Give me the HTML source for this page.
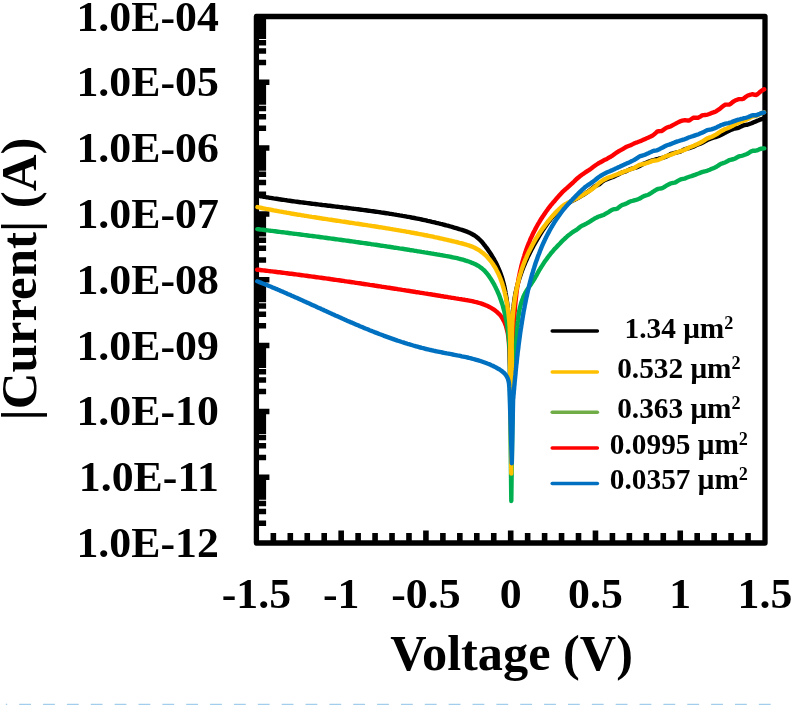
<!DOCTYPE html>
<html lang="en"><head><meta charset="utf-8"><title>I-V chart</title>
<style>html,body{margin:0;padding:0;background:#fff}body{width:792px;height:705px;overflow:hidden}svg{display:block}text{font-family:"Liberation Serif","Times New Roman",serif;font-weight:bold;fill:#000}</style></head><body>
<svg width="792" height="705" viewBox="0 0 792 705">
<rect width="792" height="705" fill="#fff"/>
<rect x="256.40" y="16.50" width="508.60" height="526.50" fill="none" stroke="#000" stroke-width="5.3" stroke-linejoin="round"/>
<path d="M256.40,62.50 H266.10 M256.40,50.91 H266.10 M256.40,42.69 H266.10 M256.40,36.31 H266.10 M256.40,31.10 H266.10 M256.40,26.69 H266.10 M256.40,22.88 H266.10 M256.40,19.51 H266.10 M256.40,82.31 H269.40 M256.40,128.31 H266.10 M256.40,116.72 H266.10 M256.40,108.50 H266.10 M256.40,102.12 H266.10 M256.40,96.91 H266.10 M256.40,92.51 H266.10 M256.40,88.69 H266.10 M256.40,85.32 H266.10 M256.40,148.12 H269.40 M256.40,194.13 H266.10 M256.40,182.54 H266.10 M256.40,174.31 H266.10 M256.40,167.94 H266.10 M256.40,162.73 H266.10 M256.40,158.32 H266.10 M256.40,154.50 H266.10 M256.40,151.14 H266.10 M256.40,213.94 H269.40 M256.40,259.94 H266.10 M256.40,248.35 H266.10 M256.40,240.13 H266.10 M256.40,233.75 H266.10 M256.40,228.54 H266.10 M256.40,224.13 H266.10 M256.40,220.32 H266.10 M256.40,216.95 H266.10 M256.40,279.75 H269.40 M256.40,325.75 H266.10 M256.40,314.16 H266.10 M256.40,305.94 H266.10 M256.40,299.56 H266.10 M256.40,294.35 H266.10 M256.40,289.94 H266.10 M256.40,286.13 H266.10 M256.40,282.76 H266.10 M256.40,345.56 H269.40 M256.40,391.56 H266.10 M256.40,379.97 H266.10 M256.40,371.75 H266.10 M256.40,365.37 H266.10 M256.40,360.16 H266.10 M256.40,355.76 H266.10 M256.40,351.94 H266.10 M256.40,348.57 H266.10 M256.40,411.38 H269.40 M256.40,457.38 H266.10 M256.40,445.79 H266.10 M256.40,437.56 H266.10 M256.40,431.19 H266.10 M256.40,425.98 H266.10 M256.40,421.57 H266.10 M256.40,417.75 H266.10 M256.40,414.39 H266.10 M256.40,477.19 H269.40 M256.40,523.19 H266.10 M256.40,511.60 H266.10 M256.40,503.38 H266.10 M256.40,497.00 H266.10 M256.40,491.79 H266.10 M256.40,487.38 H266.10 M256.40,483.57 H266.10 M256.40,480.20 H266.10" stroke="#000" stroke-width="5.5" fill="none"/>
<path d="M273.35,543.00 V533.00 M290.31,543.00 V533.00 M307.26,543.00 V533.00 M324.21,543.00 V533.00 M341.17,543.00 V530.50 M358.12,543.00 V533.00 M375.07,543.00 V533.00 M392.03,543.00 V533.00 M408.98,543.00 V533.00 M425.93,543.00 V530.50 M442.89,543.00 V533.00 M459.84,543.00 V533.00 M476.79,543.00 V533.00 M493.75,543.00 V533.00 M510.70,543.00 V530.50 M527.65,543.00 V533.00 M544.61,543.00 V533.00 M561.56,543.00 V533.00 M578.51,543.00 V533.00 M595.47,543.00 V530.50 M612.42,543.00 V533.00 M629.37,543.00 V533.00 M646.33,543.00 V533.00 M663.28,543.00 V533.00 M680.23,543.00 V530.50 M697.19,543.00 V533.00 M714.14,543.00 V533.00 M731.09,543.00 V533.00 M748.05,543.00 V533.00" stroke="#000" stroke-width="5.6" fill="none"/>
<path d="M257.4,195.6 L258.9,195.9 L260.3,196.2 L261.8,196.4 L263.2,196.7 L264.7,196.9 L266.2,197.2 L267.6,197.4 L269.1,197.7 L270.6,197.9 L272.0,198.1 L273.5,198.4 L275.0,198.6 L276.4,198.8 L277.9,199.0 L279.4,199.3 L280.8,199.5 L282.3,199.7 L283.8,199.9 L285.3,200.1 L286.7,200.3 L288.2,200.6 L289.7,200.8 L291.2,201.0 L292.7,201.2 L294.1,201.4 L295.6,201.6 L297.1,201.8 L298.6,202.0 L300.1,202.2 L301.5,202.4 L303.0,202.5 L304.5,202.7 L306.0,202.9 L307.5,203.1 L309.0,203.3 L310.5,203.5 L311.9,203.7 L313.4,203.9 L314.9,204.0 L316.4,204.2 L317.9,204.4 L319.4,204.6 L320.9,204.8 L322.4,205.0 L323.8,205.1 L325.3,205.3 L326.8,205.5 L328.3,205.7 L329.8,205.8 L331.3,206.0 L332.8,206.2 L334.3,206.4 L335.8,206.6 L337.3,206.7 L338.8,206.9 L340.2,207.1 L341.7,207.3 L343.2,207.5 L344.7,207.6 L346.2,207.8 L347.7,208.0 L349.2,208.2 L350.7,208.4 L352.2,208.6 L353.7,208.8 L355.2,208.9 L356.6,209.1 L358.1,209.3 L359.6,209.5 L361.1,209.7 L362.6,209.9 L364.1,210.1 L365.6,210.3 L367.1,210.5 L368.6,210.7 L370.0,210.9 L371.5,211.1 L373.0,211.3 L374.5,211.5 L376.0,211.7 L377.5,211.9 L379.0,212.1 L380.4,212.3 L381.9,212.6 L383.4,212.8 L384.9,213.0 L386.4,213.2 L387.9,213.4 L389.3,213.7 L390.8,213.9 L392.3,214.1 L393.8,214.4 L395.3,214.6 L396.7,214.9 L398.2,215.1 L399.7,215.4 L401.2,215.6 L402.6,215.9 L404.1,216.1 L405.6,216.4 L407.0,216.7 L408.5,216.9 L410.0,217.2 L411.4,217.5 L412.9,217.8 L414.4,218.0 L415.8,218.3 L417.3,218.6 L418.8,218.9 L420.2,219.2 L421.7,219.5 L423.1,219.8 L424.6,220.1 L426.1,220.4 L427.5,220.8 L429.0,221.1 L430.4,221.4 L431.9,221.8 L433.3,222.1 L434.8,222.4 L436.2,222.8 L437.7,223.1 L439.1,223.5 L440.5,223.9 L442.0,224.2 L443.4,224.6 L444.9,225.0 L446.3,225.4 L447.7,225.7 L449.2,226.1 L450.6,226.5 L452.0,226.9 L453.5,227.4 L454.9,227.8 L456.3,228.2 L457.7,228.6 L459.2,229.1 L460.6,229.5 L462.0,229.9 L463.4,230.4 L464.8,230.9 L466.2,231.4 L467.6,231.9 L468.9,232.5 L470.2,233.1 L471.5,233.8 L472.8,234.5 L474.1,235.2 L475.3,236.0 L476.5,236.8 L477.6,237.8 L478.7,238.7 L479.8,239.8 L480.8,240.8 L481.9,241.9 L482.9,243.1 L483.8,244.3 L484.8,245.5 L485.7,246.7 L486.6,247.9 L487.5,249.1 L488.4,250.4 L489.3,251.7 L490.1,252.9 L490.9,254.2 L491.7,255.5 L492.5,256.8 L493.3,258.1 L494.1,259.4 L494.8,260.8 L495.5,262.1 L496.2,263.4 L496.9,264.8 L497.5,266.1 L498.1,267.5 L498.7,268.9 L499.3,270.3 L499.9,271.7 L500.4,273.0 L500.9,274.4 L501.4,275.9 L501.9,277.3 L502.3,278.7 L502.7,280.1 L503.1,281.5 L503.5,283.0 L503.8,284.4 L504.2,285.8 L504.5,287.3 L504.8,288.7 L505.1,290.2 L505.4,291.6 L505.6,293.1 L505.9,294.6 L506.1,296.0 L506.3,297.5 L506.6,299.0 L506.8,300.5 L507.0,301.9 L507.2,303.4 L507.4,304.9 L507.5,306.4 L507.7,307.9 L507.9,309.4 L508.1,310.9 L508.3,312.4 L508.4,313.9 L508.6,315.3 L508.8,316.8 L509.0,318.3 L509.2,319.8 L509.4,321.3 L511.3,380.0 L513.1,320.0 L513.1,318.5 L513.1,317.0 L513.1,315.5 L513.1,314.0 L513.2,312.5 L513.2,311.0 L513.3,309.5 L513.4,308.0 L513.6,306.5 L513.7,305.0 L513.9,303.5 L514.1,302.0 L514.3,300.6 L514.5,299.1 L514.7,297.6 L515.0,296.2 L515.2,294.7 L515.5,293.2 L515.8,291.8 L516.2,290.3 L516.5,288.9 L516.8,287.4 L517.2,286.0 L517.6,284.5 L518.0,283.1 L518.4,281.7 L518.8,280.2 L519.3,278.8 L519.7,277.4 L520.2,276.0 L520.7,274.6 L521.2,273.1 L521.7,271.7 L522.2,270.3 L522.7,268.9 L523.3,267.5 L523.8,266.2 L524.4,264.8 L525.0,263.4 L525.6,262.0 L526.2,260.6 L526.8,259.3 L527.4,257.9 L528.0,256.5 L528.7,255.2 L529.4,253.8 L530.0,252.5 L530.7,251.2 L531.4,249.8 L532.1,248.5 L532.8,247.2 L533.5,245.8 L534.2,244.5 L535.0,243.2 L535.7,241.9 L536.5,240.6 L537.2,239.3 L538.0,238.0 L538.8,236.7 L539.5,235.4 L540.3,234.2 L541.1,232.9 L541.9,231.6 L542.7,230.4 L543.5,229.1 L544.4,227.9 L545.2,226.6 L546.1,225.4 L546.9,224.2 L547.8,223.0 L548.7,221.8 L549.6,220.6 L550.5,219.4 L551.4,218.3 L552.4,217.1 L553.3,216.0 L554.3,214.9 L555.3,213.8 L556.3,212.8 L557.3,211.8 L558.4,210.8 L559.5,209.8 L560.6,208.8 L561.7,207.8 L562.8,206.8 L564.0,206.0 L565.2,205.2 L566.4,204.5 L567.6,203.8 L568.9,203.0 L570.1,202.2 L571.4,201.3 L572.7,200.6 L574.0,200.0 L575.3,199.3 L576.6,198.7 L578.0,197.9 L579.3,197.1 L580.6,196.4 L581.9,195.6 L583.2,194.9 L584.4,194.1 L585.7,193.2 L586.9,192.4 L588.2,191.5 L589.4,190.6 L590.6,189.6 L591.9,188.7 L593.1,187.7 L594.3,186.7 L595.5,186.0 L596.8,185.4 L598.0,184.9 L599.3,184.2 L600.5,183.2 L601.8,182.1 L603.1,181.0 L604.4,180.3 L605.7,179.8 L607.0,179.3 L608.3,178.8 L609.6,178.3 L610.9,177.8 L612.3,177.3 L613.6,176.7 L614.9,176.0 L616.3,175.4 L617.7,174.7 L619.0,174.0 L620.4,173.3 L621.8,172.6 L623.1,172.2 L624.5,171.7 L625.9,171.3 L627.3,170.6 L628.7,169.9 L630.1,169.2 L631.5,168.8 L632.8,168.4 L634.2,168.0 L635.6,167.6 L637.0,167.1 L638.4,166.6 L639.8,166.0 L641.2,165.1 L642.6,164.3 L644.1,163.5 L645.5,163.0 L646.9,162.4 L648.3,161.9 L649.7,161.4 L651.1,160.9 L652.5,160.4 L653.9,160.0 L655.3,159.6 L656.7,159.2 L658.1,158.9 L659.6,158.5 L661.0,158.2 L662.4,157.8 L663.8,157.4 L665.2,156.9 L666.6,156.4 L668.0,155.6 L669.4,154.8 L670.8,154.0 L672.3,153.6 L673.7,153.2 L675.1,152.8 L676.5,152.5 L677.9,152.2 L679.3,151.9 L680.7,151.4 L682.1,150.6 L683.5,149.8 L684.9,149.2 L686.3,148.8 L687.7,148.5 L689.1,148.1 L690.5,147.6 L691.9,147.2 L693.3,146.7 L694.7,146.0 L696.1,145.3 L697.5,144.7 L698.9,144.1 L700.3,143.6 L701.6,143.1 L703.0,142.5 L704.4,141.6 L705.8,140.8 L707.2,140.0 L708.5,139.4 L709.9,138.9 L711.3,138.3 L712.7,137.9 L714.1,137.5 L715.4,137.1 L716.8,136.6 L718.2,136.1 L719.6,135.6 L720.9,135.0 L722.3,134.2 L723.7,133.5 L725.1,132.7 L726.4,132.0 L727.8,131.4 L729.2,130.7 L730.6,130.1 L732.0,129.5 L733.3,128.9 L734.7,128.5 L736.1,128.3 L737.5,128.1 L738.9,127.7 L740.3,126.9 L741.7,126.2 L743.1,125.5 L744.5,125.2 L745.9,124.9 L747.3,124.7 L748.7,124.2 L750.1,123.7 L751.5,123.2 L753.0,122.6 L754.4,122.0 L755.8,121.4 L757.2,120.8 L758.7,120.2 L760.1,119.6 L761.6,119.1 L763.0,118.7 L764.5,118.2" fill="none" stroke="#000000" stroke-width="4.4" stroke-linejoin="round" stroke-linecap="round"/>
<path d="M257.1,269.7 L258.6,269.8 L260.1,270.0 L261.6,270.2 L263.1,270.4 L264.6,270.5 L266.1,270.7 L267.6,270.9 L269.1,271.1 L270.6,271.3 L272.1,271.4 L273.6,271.6 L275.1,271.8 L276.6,272.0 L278.1,272.2 L279.6,272.3 L281.1,272.5 L282.6,272.7 L284.1,272.9 L285.6,273.1 L287.0,273.3 L288.5,273.5 L290.0,273.7 L291.5,273.8 L293.0,274.0 L294.5,274.2 L296.0,274.4 L297.5,274.6 L298.9,274.8 L300.4,275.0 L301.9,275.2 L303.4,275.4 L304.9,275.6 L306.4,275.8 L307.8,276.0 L309.3,276.2 L310.8,276.4 L312.3,276.6 L313.8,276.8 L315.2,277.0 L316.7,277.2 L318.2,277.4 L319.7,277.6 L321.2,277.8 L322.6,278.0 L324.1,278.2 L325.6,278.4 L327.1,278.6 L328.5,278.8 L330.0,279.0 L331.5,279.3 L333.0,279.5 L334.5,279.7 L335.9,279.9 L337.4,280.1 L338.9,280.3 L340.4,280.5 L341.8,280.7 L343.3,280.9 L344.8,281.2 L346.3,281.4 L347.7,281.6 L349.2,281.8 L350.7,282.0 L352.2,282.2 L353.6,282.4 L355.1,282.7 L356.6,282.9 L358.0,283.1 L359.5,283.3 L361.0,283.5 L362.5,283.8 L363.9,284.0 L365.4,284.2 L366.9,284.4 L368.4,284.6 L369.8,284.9 L371.3,285.1 L372.8,285.3 L374.3,285.5 L375.7,285.8 L377.2,286.0 L378.7,286.2 L380.1,286.4 L381.6,286.7 L383.1,286.9 L384.6,287.1 L386.0,287.3 L387.5,287.6 L389.0,287.8 L390.5,288.0 L391.9,288.3 L393.4,288.5 L394.9,288.7 L396.4,288.9 L397.8,289.2 L399.3,289.4 L400.8,289.6 L402.3,289.9 L403.8,290.1 L405.2,290.3 L406.7,290.6 L408.2,290.8 L409.7,291.0 L411.1,291.3 L412.6,291.5 L414.1,291.7 L415.6,292.0 L417.1,292.2 L418.5,292.4 L420.0,292.7 L421.5,292.9 L423.0,293.1 L424.5,293.4 L426.0,293.6 L427.4,293.8 L428.9,294.1 L430.4,294.3 L431.9,294.5 L433.4,294.8 L434.9,295.0 L436.3,295.3 L437.8,295.5 L439.3,295.7 L440.8,296.0 L442.3,296.2 L443.8,296.5 L445.3,296.7 L446.8,296.9 L448.2,297.2 L449.7,297.4 L451.2,297.7 L452.7,297.9 L454.2,298.1 L455.7,298.4 L457.2,298.6 L458.7,298.9 L460.2,299.1 L461.7,299.3 L463.2,299.6 L464.7,299.8 L466.2,300.1 L467.7,300.3 L469.2,300.6 L470.6,300.9 L472.1,301.2 L473.6,301.5 L475.0,301.9 L476.5,302.2 L477.9,302.6 L479.3,303.0 L480.8,303.4 L482.2,303.9 L483.5,304.4 L484.9,304.9 L486.3,305.5 L487.6,306.1 L488.9,306.7 L490.2,307.4 L491.5,308.1 L492.7,308.8 L493.9,309.6 L495.1,310.5 L496.2,311.4 L497.3,312.3 L498.4,313.3 L499.3,314.3 L500.3,315.3 L501.2,316.5 L502.0,317.6 L502.7,318.8 L503.4,320.1 L504.1,321.4 L504.7,322.7 L505.2,324.1 L505.8,325.5 L506.2,326.9 L506.6,328.4 L507.0,329.9 L507.4,331.4 L507.7,332.9 L508.0,334.4 L508.2,336.0 L508.4,337.5 L508.6,339.1 L508.8,340.7 L508.9,342.3 L509.0,343.9 L509.1,345.4 L509.2,347.0 L509.3,348.6 L509.4,350.2 L509.4,351.7 L509.5,353.2 L509.5,354.8 L509.5,356.2 L509.6,357.7 L509.6,359.2 L509.7,360.6 L509.7,362.0 L509.8,363.3 L509.8,364.7 L509.9,365.9 L511.3,430.0 L513.3,366.0 L513.3,364.5 L513.3,363.0 L513.3,361.5 L513.3,360.0 L513.3,358.6 L513.3,357.1 L513.3,355.6 L513.4,354.1 L513.4,352.6 L513.4,351.1 L513.4,349.6 L513.4,348.1 L513.4,346.6 L513.4,345.2 L513.5,343.7 L513.5,342.2 L513.5,340.7 L513.5,339.2 L513.6,337.7 L513.6,336.1 L513.6,334.6 L513.7,333.1 L513.7,331.6 L513.8,330.1 L513.8,328.6 L513.9,327.1 L513.9,325.6 L514.0,324.1 L514.1,322.6 L514.1,321.1 L514.2,319.6 L514.3,318.1 L514.4,316.6 L514.5,315.1 L514.5,313.6 L514.6,312.1 L514.8,310.6 L514.9,309.1 L515.0,307.6 L515.1,306.1 L515.2,304.6 L515.4,303.1 L515.5,301.6 L515.7,300.1 L515.8,298.6 L516.0,297.1 L516.2,295.6 L516.3,294.1 L516.5,292.6 L516.7,291.1 L516.9,289.6 L517.1,288.1 L517.3,286.7 L517.6,285.2 L517.8,283.7 L518.1,282.2 L518.3,280.8 L518.6,279.3 L518.8,277.8 L519.1,276.3 L519.4,274.9 L519.7,273.4 L520.0,272.0 L520.3,270.5 L520.7,269.1 L521.0,267.6 L521.4,266.2 L521.7,264.7 L522.1,263.3 L522.5,261.8 L522.9,260.4 L523.3,259.0 L523.7,257.6 L524.2,256.1 L524.6,254.7 L525.1,253.3 L525.5,251.9 L526.0,250.5 L526.5,249.1 L527.0,247.7 L527.5,246.3 L528.1,244.9 L528.6,243.5 L529.2,242.2 L529.8,240.8 L530.3,239.4 L530.9,238.0 L531.6,236.7 L532.2,235.3 L532.8,234.0 L533.5,232.6 L534.2,231.3 L534.9,230.0 L535.6,228.6 L536.3,227.3 L537.0,226.0 L537.7,224.7 L538.5,223.4 L539.3,222.1 L540.0,220.8 L540.8,219.5 L541.6,218.3 L542.4,217.0 L543.3,215.7 L544.1,214.5 L545.0,213.2 L545.8,212.0 L546.7,210.8 L547.6,209.6 L548.5,208.3 L549.4,207.1 L550.3,206.0 L551.2,204.8 L552.2,203.7 L553.1,202.6 L554.1,201.5 L555.1,200.3 L556.0,199.2 L557.0,198.1 L558.0,196.9 L559.0,195.8 L560.0,194.7 L561.1,193.5 L562.1,192.4 L563.2,191.3 L564.2,190.4 L565.3,189.5 L566.3,188.5 L567.4,187.7 L568.5,186.7 L569.6,185.7 L570.7,184.7 L571.8,183.7 L572.9,182.6 L574.1,181.5 L575.2,180.4 L576.3,179.3 L577.5,178.3 L578.7,177.3 L579.8,176.3 L581.0,175.4 L582.2,174.5 L583.3,173.8 L584.5,173.0 L585.7,172.2 L586.9,171.4 L588.1,170.6 L589.3,169.9 L590.6,169.0 L591.8,168.1 L593.0,167.1 L594.2,166.2 L595.5,165.3 L596.7,164.5 L598.0,163.7 L599.2,162.9 L600.5,162.2 L601.8,161.5 L603.0,160.8 L604.3,160.1 L605.6,159.5 L606.9,158.9 L608.1,158.2 L609.4,157.4 L610.7,156.7 L612.0,155.9 L613.3,155.0 L614.6,154.0 L616.0,153.0 L617.3,152.1 L618.6,151.3 L619.9,150.6 L621.2,149.9 L622.6,149.1 L623.9,148.3 L625.2,147.5 L626.6,146.8 L627.9,146.3 L629.2,145.8 L630.6,145.3 L631.9,144.6 L633.3,143.9 L634.6,143.2 L635.9,142.7 L637.3,142.3 L638.6,141.8 L640.0,141.3 L641.3,140.7 L642.7,140.1 L644.0,139.5 L645.3,138.9 L646.7,138.3 L648.0,137.8 L649.4,137.1 L650.7,136.5 L652.1,135.8 L653.4,135.0 L654.7,133.8 L656.1,132.6 L657.4,131.4 L658.8,131.2 L660.1,131.1 L661.5,131.0 L662.9,130.3 L664.2,129.3 L665.6,128.3 L666.9,127.5 L668.3,127.1 L669.7,126.7 L671.1,126.2 L672.4,125.4 L673.8,124.6 L675.2,123.9 L676.6,123.1 L678.0,122.4 L679.4,121.7 L680.8,121.1 L682.2,120.7 L683.6,120.4 L685.0,120.2 L686.5,120.4 L687.9,120.5 L689.3,120.5 L690.7,119.5 L692.2,118.5 L693.6,117.6 L695.0,117.7 L696.4,117.8 L697.9,117.9 L699.3,117.1 L700.7,116.3 L702.1,115.4 L703.6,115.1 L705.0,115.0 L706.4,114.9 L707.8,114.5 L709.2,114.0 L710.6,113.4 L712.0,112.8 L713.4,112.4 L714.8,111.9 L716.2,111.3 L717.5,110.3 L718.9,109.4 L720.2,108.4 L721.6,107.3 L722.9,106.3 L724.3,105.2 L725.6,104.6 L726.9,104.6 L728.3,104.6 L729.6,104.6 L731.0,103.5 L732.3,102.4 L733.7,101.4 L735.1,100.6 L736.5,100.0 L737.9,99.4 L739.2,99.1 L740.7,99.1 L742.1,99.1 L743.5,98.7 L744.9,97.6 L746.3,96.5 L747.8,95.5 L749.2,95.1 L750.6,94.7 L752.0,94.2 L753.5,94.5 L754.9,94.8 L756.3,95.0 L757.6,94.1 L759.0,92.9 L760.3,91.7 L761.6,90.7 L762.9,90.0 L764.2,89.3" fill="none" stroke="#FF0000" stroke-width="4.4" stroke-linejoin="round" stroke-linecap="round"/>
<path d="M257.3,229.1 L258.8,229.3 L260.2,229.5 L261.7,229.6 L263.2,229.8 L264.7,230.0 L266.2,230.2 L267.7,230.4 L269.2,230.6 L270.7,230.8 L272.2,230.9 L273.7,231.1 L275.1,231.3 L276.6,231.5 L278.1,231.7 L279.6,231.9 L281.1,232.1 L282.6,232.2 L284.1,232.4 L285.5,232.6 L287.0,232.8 L288.5,233.0 L290.0,233.2 L291.5,233.4 L293.0,233.6 L294.4,233.8 L295.9,233.9 L297.4,234.1 L298.9,234.3 L300.4,234.5 L301.9,234.7 L303.3,234.9 L304.8,235.1 L306.3,235.3 L307.8,235.5 L309.3,235.7 L310.7,235.9 L312.2,236.0 L313.7,236.2 L315.2,236.4 L316.7,236.6 L318.2,236.8 L319.6,237.0 L321.1,237.2 L322.6,237.4 L324.1,237.6 L325.5,237.8 L327.0,238.0 L328.5,238.2 L330.0,238.4 L331.5,238.6 L332.9,238.8 L334.4,239.0 L335.9,239.2 L337.4,239.4 L338.9,239.6 L340.3,239.8 L341.8,240.0 L343.3,240.2 L344.8,240.4 L346.2,240.6 L347.7,240.8 L349.2,241.0 L350.7,241.2 L352.1,241.4 L353.6,241.6 L355.1,241.8 L356.6,242.1 L358.1,242.3 L359.5,242.5 L361.0,242.7 L362.5,242.9 L364.0,243.1 L365.4,243.3 L366.9,243.5 L368.4,243.7 L369.9,243.9 L371.3,244.2 L372.8,244.4 L374.3,244.6 L375.8,244.8 L377.3,245.0 L378.7,245.2 L380.2,245.5 L381.7,245.7 L383.2,245.9 L384.6,246.1 L386.1,246.3 L387.6,246.6 L389.1,246.8 L390.6,247.0 L392.0,247.2 L393.5,247.5 L395.0,247.7 L396.5,247.9 L397.9,248.1 L399.4,248.4 L400.9,248.6 L402.4,248.8 L403.9,249.0 L405.3,249.3 L406.8,249.5 L408.3,249.7 L409.8,250.0 L411.3,250.2 L412.7,250.4 L414.2,250.7 L415.7,250.9 L417.2,251.2 L418.7,251.4 L420.1,251.6 L421.6,251.9 L423.1,252.1 L424.6,252.4 L426.1,252.6 L427.5,252.8 L429.0,253.1 L430.5,253.3 L432.0,253.6 L433.5,253.8 L435.0,254.1 L436.4,254.3 L437.9,254.6 L439.4,254.8 L440.9,255.1 L442.4,255.3 L443.9,255.6 L445.4,255.9 L446.8,256.1 L448.3,256.4 L449.8,256.7 L451.3,257.0 L452.7,257.3 L454.2,257.6 L455.7,257.9 L457.1,258.2 L458.6,258.6 L460.0,259.0 L461.5,259.3 L462.9,259.7 L464.3,260.1 L465.7,260.6 L467.2,261.0 L468.6,261.5 L470.0,262.0 L471.3,262.6 L472.7,263.1 L474.1,263.7 L475.4,264.3 L476.7,265.0 L478.0,265.7 L479.2,266.4 L480.4,267.3 L481.6,268.1 L482.7,269.1 L483.8,270.0 L484.8,271.1 L485.8,272.2 L486.8,273.3 L487.7,274.4 L488.6,275.6 L489.5,276.9 L490.3,278.1 L491.1,279.4 L491.9,280.7 L492.7,282.0 L493.5,283.3 L494.2,284.6 L494.9,286.0 L495.6,287.3 L496.2,288.7 L496.9,290.0 L497.5,291.4 L498.1,292.8 L498.7,294.2 L499.3,295.6 L499.8,297.0 L500.3,298.4 L500.8,299.8 L501.3,301.2 L501.8,302.7 L502.3,304.1 L502.7,305.5 L503.1,306.9 L503.5,308.4 L503.9,309.8 L504.3,311.2 L504.6,312.7 L505.0,314.1 L505.3,315.6 L505.6,317.0 L505.9,318.5 L506.2,319.9 L506.5,321.4 L506.7,322.8 L507.0,324.3 L507.2,325.8 L507.4,327.2 L507.6,328.7 L507.8,330.2 L508.0,331.7 L508.2,333.2 L508.4,334.6 L508.5,336.1 L508.7,337.6 L508.8,339.1 L508.9,340.6 L509.1,342.1 L509.2,343.6 L509.3,345.1 L509.4,346.6 L509.5,348.1 L509.6,349.6 L511.3,501.0 L513.0,374.0 L513.2,372.5 L513.5,371.0 L513.7,369.5 L513.9,368.1 L514.1,366.6 L514.3,365.1 L514.5,363.6 L514.7,362.1 L514.8,360.6 L515.0,359.1 L515.1,357.6 L515.3,356.1 L515.4,354.7 L515.5,353.2 L515.6,351.7 L515.7,350.2 L515.8,348.7 L515.9,347.2 L516.0,345.7 L516.1,344.2 L516.2,342.7 L516.3,341.2 L516.4,339.7 L516.5,338.2 L516.6,336.7 L516.7,335.2 L516.8,333.7 L516.9,332.2 L517.0,330.7 L517.1,329.2 L517.2,327.7 L517.4,326.2 L517.5,324.7 L517.6,323.2 L517.8,321.7 L518.0,320.2 L518.1,318.7 L518.3,317.2 L518.5,315.7 L518.8,314.3 L519.0,312.8 L519.3,311.3 L519.5,309.8 L519.8,308.4 L520.2,306.9 L520.5,305.5 L520.9,304.0 L521.3,302.6 L521.8,301.2 L522.3,299.8 L522.8,298.5 L523.3,297.1 L523.9,295.7 L524.6,294.4 L525.2,293.1 L525.9,291.8 L526.7,290.5 L527.5,289.3 L528.3,288.1 L529.2,286.8 L530.0,285.6 L530.9,284.4 L531.7,283.1 L532.5,281.9 L533.3,280.7 L534.1,279.4 L534.8,278.1 L535.5,276.9 L536.3,275.6 L537.0,274.3 L537.7,273.0 L538.4,271.7 L539.1,270.4 L539.9,269.2 L540.7,267.9 L541.5,266.6 L542.3,265.4 L543.1,264.1 L543.9,262.9 L544.8,261.6 L545.6,260.4 L546.5,259.2 L547.4,257.9 L548.3,256.7 L549.2,255.5 L550.2,254.3 L551.1,253.1 L552.1,252.0 L553.1,250.8 L554.0,249.7 L555.0,248.6 L556.1,247.5 L557.1,246.4 L558.1,245.4 L559.2,244.3 L560.3,243.2 L561.3,242.0 L562.4,240.9 L563.5,239.8 L564.6,238.8 L565.8,237.8 L566.9,236.7 L568.0,235.7 L569.2,234.8 L570.4,233.9 L571.5,233.0 L572.7,232.2 L573.9,231.4 L575.1,230.7 L576.3,230.0 L577.6,229.0 L578.8,228.0 L580.0,227.0 L581.3,226.1 L582.5,225.5 L583.8,224.9 L585.1,224.3 L586.4,223.6 L587.6,222.9 L588.9,222.2 L590.2,221.4 L591.5,220.5 L592.9,219.7 L594.2,218.8 L595.5,218.1 L596.8,217.5 L598.1,216.8 L599.5,216.3 L600.8,215.9 L602.2,215.4 L603.5,215.0 L604.9,214.2 L606.2,213.4 L607.6,212.6 L609.0,211.8 L610.3,210.9 L611.7,210.0 L613.1,209.4 L614.4,209.2 L615.8,209.0 L617.2,208.7 L618.6,207.6 L619.9,206.5 L621.3,205.4 L622.7,204.8 L624.1,204.4 L625.5,203.9 L626.8,203.3 L628.2,202.5 L629.6,201.8 L631.0,201.2 L632.4,200.9 L633.7,200.5 L635.1,200.2 L636.5,199.7 L637.9,199.3 L639.2,198.8 L640.6,198.0 L642.0,197.2 L643.3,196.4 L644.7,195.8 L646.1,195.4 L647.4,195.0 L648.8,194.5 L650.1,193.6 L651.5,192.8 L652.8,191.9 L654.2,191.0 L655.6,190.2 L656.9,189.4 L658.3,188.9 L659.6,188.7 L661.0,188.5 L662.3,188.1 L663.7,187.3 L665.1,186.5 L666.4,185.7 L667.8,184.9 L669.1,184.2 L670.5,183.5 L671.9,183.1 L673.3,182.8 L674.6,182.6 L676.0,182.1 L677.4,181.2 L678.8,180.4 L680.2,179.6 L681.6,179.2 L683.0,178.9 L684.4,178.6 L685.8,178.1 L687.2,177.5 L688.6,177.0 L690.0,176.5 L691.4,176.1 L692.8,175.6 L694.2,175.1 L695.6,174.6 L697.1,174.0 L698.5,173.5 L699.9,172.9 L701.3,172.4 L702.7,171.9 L704.1,171.5 L705.6,171.2 L707.0,170.8 L708.4,170.2 L709.8,169.7 L711.2,169.1 L712.6,168.5 L714.0,167.9 L715.4,167.3 L716.8,166.5 L718.2,165.6 L719.6,164.6 L720.9,163.8 L722.3,163.4 L723.7,162.9 L725.1,162.5 L726.4,161.7 L727.8,161.0 L729.2,160.2 L730.5,159.8 L731.9,159.5 L733.3,159.3 L734.6,158.8 L736.0,158.0 L737.4,157.2 L738.7,156.5 L740.1,156.2 L741.5,155.9 L742.9,155.5 L744.2,155.0 L745.6,154.5 L747.0,154.0 L748.4,153.2 L749.8,152.2 L751.2,151.3 L752.7,150.8 L754.1,150.7 L755.5,150.7 L757.0,150.4 L758.4,149.8 L759.9,149.1 L761.3,148.6 L762.8,148.5 L764.3,148.4" fill="none" stroke="#00B050" stroke-width="4.4" stroke-linejoin="round" stroke-linecap="round"/>
<path d="M257.4,207.1 L258.8,207.4 L260.3,207.7 L261.8,208.0 L263.2,208.3 L264.7,208.6 L266.1,208.9 L267.6,209.1 L269.1,209.4 L270.5,209.7 L272.0,210.0 L273.5,210.3 L274.9,210.6 L276.4,210.8 L277.9,211.1 L279.3,211.4 L280.8,211.6 L282.3,211.9 L283.8,212.2 L285.2,212.4 L286.7,212.7 L288.2,212.9 L289.6,213.2 L291.1,213.5 L292.6,213.7 L294.1,214.0 L295.5,214.2 L297.0,214.5 L298.5,214.7 L300.0,214.9 L301.4,215.2 L302.9,215.4 L304.4,215.7 L305.9,215.9 L307.3,216.1 L308.8,216.4 L310.3,216.6 L311.8,216.9 L313.3,217.1 L314.7,217.3 L316.2,217.5 L317.7,217.8 L319.2,218.0 L320.7,218.2 L322.1,218.5 L323.6,218.7 L325.1,218.9 L326.6,219.1 L328.1,219.4 L329.5,219.6 L331.0,219.8 L332.5,220.0 L334.0,220.3 L335.5,220.5 L336.9,220.7 L338.4,220.9 L339.9,221.1 L341.4,221.4 L342.9,221.6 L344.4,221.8 L345.8,222.0 L347.3,222.2 L348.8,222.5 L350.3,222.7 L351.8,222.9 L353.3,223.1 L354.7,223.4 L356.2,223.6 L357.7,223.8 L359.2,224.0 L360.7,224.2 L362.2,224.5 L363.6,224.7 L365.1,224.9 L366.6,225.1 L368.1,225.4 L369.6,225.6 L371.0,225.8 L372.5,226.1 L374.0,226.3 L375.5,226.5 L377.0,226.7 L378.4,227.0 L379.9,227.2 L381.4,227.4 L382.9,227.7 L384.4,227.9 L385.9,228.2 L387.3,228.4 L388.8,228.6 L390.3,228.9 L391.8,229.1 L393.2,229.4 L394.7,229.6 L396.2,229.9 L397.7,230.1 L399.2,230.4 L400.6,230.6 L402.1,230.9 L403.6,231.1 L405.1,231.4 L406.5,231.7 L408.0,231.9 L409.5,232.2 L411.0,232.5 L412.4,232.7 L413.9,233.0 L415.4,233.3 L416.8,233.5 L418.3,233.8 L419.8,234.1 L421.3,234.4 L422.7,234.7 L424.2,235.0 L425.7,235.3 L427.1,235.5 L428.6,235.8 L430.1,236.1 L431.5,236.4 L433.0,236.7 L434.5,237.1 L435.9,237.4 L437.4,237.7 L438.9,238.0 L440.3,238.3 L441.8,238.6 L443.2,239.0 L444.7,239.3 L446.2,239.6 L447.6,240.0 L449.1,240.3 L450.5,240.6 L452.0,241.0 L453.4,241.3 L454.9,241.7 L456.3,242.0 L457.8,242.4 L459.3,242.8 L460.7,243.1 L462.2,243.5 L463.6,243.9 L465.0,244.3 L466.5,244.7 L467.9,245.2 L469.3,245.6 L470.7,246.1 L472.0,246.6 L473.4,247.2 L474.7,247.8 L476.0,248.5 L477.3,249.2 L478.5,249.9 L479.8,250.7 L480.9,251.5 L482.1,252.4 L483.3,253.3 L484.4,254.2 L485.4,255.2 L486.5,256.2 L487.5,257.3 L488.5,258.4 L489.5,259.5 L490.4,260.6 L491.3,261.8 L492.2,263.0 L493.0,264.2 L493.8,265.5 L494.6,266.7 L495.4,268.0 L496.1,269.3 L496.8,270.7 L497.5,272.0 L498.2,273.4 L498.8,274.7 L499.4,276.1 L500.0,277.5 L500.6,279.0 L501.1,280.4 L501.6,281.8 L502.1,283.3 L502.6,284.8 L503.0,286.2 L503.5,287.7 L503.9,289.2 L504.3,290.7 L504.7,292.2 L505.0,293.7 L505.4,295.2 L505.7,296.7 L506.0,298.2 L506.3,299.7 L506.6,301.2 L506.9,302.7 L507.1,304.2 L507.4,305.7 L507.6,307.1 L507.8,308.6 L508.0,310.1 L508.2,311.6 L508.4,313.1 L508.6,314.5 L508.7,316.0 L508.9,317.5 L509.0,318.9 L509.2,320.4 L509.3,321.9 L509.4,323.4 L509.5,324.8 L509.6,326.3 L509.7,327.8 L509.7,329.2 L509.8,330.7 L509.9,332.2 L509.9,333.6 L510.0,335.1 L510.0,336.6 L510.1,338.0 L510.1,339.5 L510.1,341.0 L510.1,342.4 L510.2,343.9 L510.2,345.4 L510.2,346.9 L510.2,348.4 L510.2,349.8 L510.2,351.3 L510.2,352.8 L510.2,354.3 L510.2,355.8 L510.2,357.3 L510.2,358.8 L510.2,360.3 L510.2,361.8 L510.2,363.3 L510.2,364.8 L510.2,366.3 L510.2,367.8 L510.2,369.3 L510.2,370.9 L510.2,372.4 L510.2,373.9 L510.2,375.5 L510.2,377.0 L510.2,378.6 L510.3,380.1 L511.3,473.5 L511.9,362.1 L511.9,360.6 L511.9,359.1 L511.8,357.6 L511.8,356.1 L511.8,354.6 L511.8,353.1 L511.8,351.5 L511.8,350.0 L511.7,348.5 L511.7,347.0 L511.7,345.5 L511.7,344.0 L511.8,342.5 L511.8,341.0 L511.8,339.5 L511.8,338.0 L511.8,336.5 L511.9,335.0 L511.9,333.5 L512.0,332.0 L512.0,330.5 L512.1,329.0 L512.1,327.5 L512.2,326.0 L512.3,324.5 L512.4,323.0 L512.4,321.5 L512.5,320.0 L512.6,318.5 L512.8,317.0 L512.9,315.5 L513.0,314.0 L513.1,312.5 L513.3,311.1 L513.4,309.6 L513.6,308.1 L513.8,306.6 L513.9,305.1 L514.1,303.7 L514.3,302.2 L514.5,300.7 L514.8,299.2 L515.0,297.8 L515.2,296.3 L515.5,294.8 L515.7,293.4 L516.0,291.9 L516.3,290.5 L516.6,289.0 L516.9,287.6 L517.2,286.1 L517.5,284.7 L517.8,283.2 L518.2,281.8 L518.6,280.3 L518.9,278.9 L519.3,277.5 L519.7,276.0 L520.1,274.6 L520.6,273.2 L521.0,271.8 L521.4,270.4 L521.9,268.9 L522.4,267.5 L522.9,266.1 L523.4,264.7 L523.9,263.3 L524.5,261.9 L525.0,260.5 L525.6,259.1 L526.2,257.8 L526.8,256.4 L527.4,255.0 L528.0,253.6 L528.6,252.3 L529.3,250.9 L530.0,249.6 L530.7,248.2 L531.4,246.9 L532.1,245.5 L532.8,244.2 L533.5,242.9 L534.3,241.5 L535.0,240.2 L535.8,238.9 L536.6,237.6 L537.4,236.4 L538.2,235.1 L539.0,233.8 L539.9,232.5 L540.7,231.3 L541.6,230.0 L542.4,228.8 L543.3,227.6 L544.2,226.4 L545.1,225.2 L546.0,224.0 L546.9,222.8 L547.8,221.6 L548.8,220.5 L549.7,219.3 L550.7,218.2 L551.6,217.0 L552.6,215.9 L553.6,214.8 L554.6,213.7 L555.6,212.6 L556.6,211.6 L557.6,210.6 L558.7,209.6 L559.7,208.6 L560.8,207.6 L561.9,206.6 L563.1,205.7 L564.2,204.9 L565.4,204.1 L566.7,203.4 L567.9,202.7 L569.3,202.1 L570.6,201.4 L571.9,200.8 L573.3,200.1 L574.6,199.4 L576.0,198.7 L577.4,198.0 L578.8,197.3 L580.1,196.5 L581.5,195.8 L582.8,195.0 L584.1,194.2 L585.4,193.3 L586.6,192.6 L587.9,191.9 L589.1,191.2 L590.3,190.4 L591.5,189.5 L592.7,188.6 L593.8,187.7 L595.0,186.7 L596.2,185.7 L597.4,184.6 L598.5,183.5 L599.7,182.6 L600.9,181.7 L602.2,180.8 L603.4,180.0 L604.7,179.3 L605.9,178.7 L607.2,178.1 L608.5,177.5 L609.9,177.0 L611.2,176.6 L612.6,176.1 L614.0,175.5 L615.3,175.0 L616.7,174.5 L618.1,174.0 L619.5,173.4 L620.9,172.9 L622.3,172.4 L623.7,171.8 L625.1,171.3 L626.5,170.8 L627.9,170.3 L629.3,169.8 L630.7,169.3 L632.2,168.7 L633.6,168.1 L635.0,167.6 L636.4,166.7 L637.8,165.8 L639.2,165.0 L640.7,164.6 L642.1,164.3 L643.5,164.1 L644.9,163.7 L646.3,163.2 L647.8,162.7 L649.2,162.2 L650.6,161.6 L652.0,161.1 L653.4,160.7 L654.9,160.5 L656.3,160.4 L657.7,160.1 L659.1,159.5 L660.5,158.8 L661.9,158.2 L663.3,157.5 L664.8,156.8 L666.2,156.1 L667.6,155.7 L669.0,155.3 L670.4,154.9 L671.8,154.4 L673.2,153.8 L674.6,153.2 L676.0,152.7 L677.4,152.2 L678.7,151.8 L680.1,151.3 L681.5,150.9 L682.9,150.4 L684.3,150.0 L685.6,149.3 L687.0,148.7 L688.4,148.0 L689.7,147.3 L691.1,146.8 L692.5,146.2 L693.8,145.7 L695.2,145.1 L696.5,144.5 L697.9,143.9 L699.2,143.2 L700.6,142.5 L701.9,141.8 L703.3,141.0 L704.6,140.1 L706.0,139.2 L707.3,138.4 L708.7,137.9 L710.0,137.4 L711.3,137.0 L712.7,136.3 L714.0,135.6 L715.4,135.0 L716.7,134.2 L718.0,133.2 L719.4,132.3 L720.7,131.4 L722.0,130.7 L723.4,130.0 L724.7,129.3 L726.1,128.8 L727.4,128.3 L728.7,127.7 L730.1,127.1 L731.4,126.4 L732.8,125.7 L734.1,124.9 L735.4,124.2 L736.8,123.6 L738.1,122.9 L739.5,122.3 L740.8,121.8 L742.2,121.2 L743.5,120.7 L744.9,120.2 L746.2,119.7 L747.6,119.1 L749.0,118.3 L750.3,117.5 L751.7,116.7 L753.0,116.3 L754.4,116.1 L755.8,115.9 L757.2,115.4 L758.5,114.7 L759.9,114.0 L761.3,113.3 L762.7,112.8 L764.1,112.3" fill="none" stroke="#FFC000" stroke-width="4.4" stroke-linejoin="round" stroke-linecap="round"/>
<path d="M257.2,281.3 L258.6,281.8 L260.0,282.4 L261.4,282.9 L262.8,283.5 L264.2,284.0 L265.6,284.6 L267.0,285.1 L268.4,285.7 L269.8,286.3 L271.1,286.8 L272.5,287.4 L273.9,288.0 L275.3,288.6 L276.7,289.1 L278.0,289.7 L279.4,290.3 L280.8,290.9 L282.2,291.5 L283.5,292.1 L284.9,292.7 L286.3,293.3 L287.6,293.9 L289.0,294.5 L290.4,295.1 L291.7,295.7 L293.1,296.3 L294.5,296.9 L295.8,297.5 L297.2,298.1 L298.6,298.7 L299.9,299.3 L301.3,299.9 L302.7,300.6 L304.0,301.2 L305.4,301.8 L306.8,302.4 L308.1,303.0 L309.5,303.6 L310.8,304.3 L312.2,304.9 L313.6,305.5 L314.9,306.1 L316.3,306.7 L317.6,307.4 L319.0,308.0 L320.4,308.6 L321.7,309.2 L323.1,309.8 L324.4,310.5 L325.8,311.1 L327.2,311.7 L328.5,312.3 L329.9,312.9 L331.2,313.6 L332.6,314.2 L334.0,314.8 L335.3,315.4 L336.7,316.0 L338.0,316.6 L339.4,317.2 L340.8,317.8 L342.1,318.4 L343.5,319.1 L344.9,319.7 L346.2,320.3 L347.6,320.9 L349.0,321.5 L350.3,322.1 L351.7,322.6 L353.1,323.2 L354.4,323.8 L355.8,324.4 L357.2,325.0 L358.6,325.6 L359.9,326.2 L361.3,326.7 L362.7,327.3 L364.1,327.9 L365.4,328.5 L366.8,329.0 L368.2,329.6 L369.6,330.2 L371.0,330.7 L372.3,331.3 L373.7,331.8 L375.1,332.4 L376.5,332.9 L377.9,333.4 L379.3,334.0 L380.7,334.5 L382.1,335.0 L383.5,335.6 L384.9,336.1 L386.3,336.6 L387.7,337.1 L389.1,337.6 L390.5,338.1 L391.9,338.6 L393.3,339.1 L394.7,339.6 L396.1,340.1 L397.5,340.6 L398.9,341.0 L400.3,341.5 L401.8,342.0 L403.2,342.4 L404.6,342.9 L406.0,343.3 L407.4,343.8 L408.9,344.2 L410.3,344.6 L411.7,345.0 L413.2,345.5 L414.6,345.9 L416.1,346.3 L417.5,346.7 L418.9,347.1 L420.4,347.5 L421.8,347.9 L423.3,348.2 L424.7,348.6 L426.2,349.0 L427.7,349.3 L429.1,349.7 L430.6,350.0 L432.1,350.3 L433.5,350.7 L435.0,351.0 L436.5,351.3 L438.0,351.6 L439.4,351.9 L440.9,352.2 L442.4,352.5 L443.9,352.8 L445.4,353.1 L446.9,353.4 L448.4,353.6 L449.8,353.9 L451.3,354.2 L452.8,354.5 L454.3,354.8 L455.8,355.1 L457.3,355.4 L458.7,355.6 L460.2,355.9 L461.7,356.3 L463.2,356.6 L464.6,356.9 L466.1,357.2 L467.5,357.5 L469.0,357.9 L470.4,358.2 L471.9,358.6 L473.3,359.0 L474.8,359.4 L476.2,359.8 L477.6,360.2 L479.0,360.6 L480.4,361.0 L481.8,361.5 L483.2,362.0 L484.6,362.5 L486.0,363.0 L487.3,363.5 L488.7,364.0 L490.0,364.6 L491.3,365.2 L492.7,365.8 L494.0,366.5 L495.3,367.1 L496.6,367.8 L497.8,368.5 L499.1,369.2 L500.3,370.0 L501.5,370.8 L502.6,371.7 L503.7,372.6 L504.7,373.6 L505.6,374.7 L506.4,375.9 L507.1,377.1 L507.7,378.4 L508.2,379.9 L508.6,381.4 L508.9,382.9 L509.1,384.5 L509.2,386.2 L509.4,387.8 L509.4,389.5 L509.5,391.1 L509.6,392.6 L509.6,394.2 L509.7,395.6 L511.8,463.2 L513.1,399.6 L513.3,398.1 L513.4,396.6 L513.5,395.1 L513.7,393.6 L513.8,392.1 L513.9,390.6 L514.1,389.1 L514.2,387.6 L514.3,386.1 L514.5,384.6 L514.6,383.1 L514.7,381.6 L514.9,380.1 L515.0,378.6 L515.2,377.1 L515.3,375.6 L515.5,374.2 L515.6,372.7 L515.7,371.2 L515.9,369.7 L516.0,368.2 L516.2,366.7 L516.3,365.2 L516.5,363.7 L516.7,362.2 L516.8,360.7 L517.0,359.3 L517.1,357.8 L517.3,356.3 L517.5,354.8 L517.6,353.3 L517.8,351.8 L518.0,350.3 L518.2,348.8 L518.4,347.4 L518.5,345.9 L518.7,344.4 L518.9,342.9 L519.1,341.4 L519.3,339.9 L519.5,338.5 L519.7,337.0 L519.9,335.5 L520.1,334.0 L520.3,332.5 L520.5,331.1 L520.7,329.6 L521.0,328.1 L521.2,326.6 L521.4,325.1 L521.7,323.7 L521.9,322.2 L522.1,320.7 L522.4,319.2 L522.6,317.7 L522.9,316.3 L523.1,314.8 L523.4,313.3 L523.6,311.8 L523.9,310.4 L524.2,308.9 L524.5,307.4 L524.7,305.9 L525.0,304.5 L525.3,303.0 L525.6,301.5 L525.9,300.0 L526.2,298.6 L526.5,297.1 L526.9,295.6 L527.2,294.1 L527.5,292.7 L527.8,291.2 L528.2,289.7 L528.5,288.3 L528.9,286.8 L529.2,285.3 L529.6,283.9 L530.0,282.4 L530.3,281.0 L530.7,279.5 L531.1,278.0 L531.5,276.6 L531.9,275.1 L532.3,273.7 L532.8,272.2 L533.2,270.8 L533.6,269.4 L534.1,267.9 L534.5,266.5 L535.0,265.1 L535.4,263.6 L535.9,262.2 L536.4,260.8 L536.9,259.4 L537.4,258.0 L537.9,256.6 L538.4,255.2 L539.0,253.8 L539.5,252.4 L540.0,251.0 L540.6,249.6 L541.2,248.2 L541.7,246.8 L542.3,245.5 L542.9,244.1 L543.5,242.7 L544.2,241.4 L544.8,240.0 L545.4,238.7 L546.1,237.4 L546.7,236.0 L547.4,234.7 L548.1,233.4 L548.8,232.1 L549.5,230.8 L550.2,229.5 L550.9,228.2 L551.7,226.9 L552.4,225.6 L553.2,224.3 L554.0,223.0 L554.8,221.7 L555.6,220.5 L556.4,219.3 L557.2,218.1 L558.1,216.9 L558.9,215.7 L559.8,214.4 L560.7,213.2 L561.6,212.0 L562.5,210.8 L563.4,209.6 L564.3,208.5 L565.3,207.4 L566.2,206.3 L567.2,205.2 L568.2,204.1 L569.2,203.0 L570.2,201.9 L571.2,200.8 L572.3,199.7 L573.3,198.6 L574.4,197.5 L575.5,196.4 L576.5,195.3 L577.6,194.2 L578.7,193.1 L579.8,192.0 L581.0,191.0 L582.1,189.9 L583.2,188.9 L584.4,187.8 L585.6,186.8 L586.7,186.0 L587.9,185.2 L589.1,184.4 L590.3,183.6 L591.5,182.7 L592.7,181.9 L593.9,181.0 L595.2,180.0 L596.4,179.0 L597.6,178.0 L598.9,177.0 L600.2,176.2 L601.4,175.4 L602.7,174.6 L604.0,173.9 L605.3,173.2 L606.6,172.6 L607.8,172.0 L609.2,171.5 L610.5,170.9 L611.8,170.4 L613.1,169.8 L614.4,169.2 L615.7,168.6 L617.1,168.0 L618.4,167.3 L619.7,166.7 L621.1,166.0 L622.4,165.4 L623.8,164.8 L625.1,164.2 L626.5,163.6 L627.8,163.0 L629.2,162.4 L630.6,161.7 L631.9,161.1 L633.3,160.4 L634.6,159.7 L636.0,158.8 L637.4,157.9 L638.7,156.9 L640.1,156.2 L641.5,155.8 L642.9,155.4 L644.2,155.0 L645.6,154.4 L647.0,153.8 L648.4,153.2 L649.7,152.6 L651.1,151.9 L652.5,151.3 L653.9,150.8 L655.3,150.6 L656.7,150.3 L658.0,149.9 L659.4,149.2 L660.8,148.4 L662.2,147.7 L663.6,147.0 L665.0,146.2 L666.4,145.5 L667.8,145.0 L669.2,144.6 L670.5,144.1 L671.9,143.6 L673.3,143.0 L674.7,142.4 L676.1,141.9 L677.5,141.4 L678.9,141.0 L680.3,140.5 L681.7,140.1 L683.1,139.7 L684.5,139.3 L685.9,138.7 L687.4,138.1 L688.8,137.4 L690.2,137.0 L691.6,136.5 L693.0,136.1 L694.4,135.6 L695.8,135.1 L697.2,134.7 L698.6,134.2 L700.0,133.6 L701.4,133.0 L702.9,132.4 L704.3,131.7 L705.7,130.9 L707.1,130.2 L708.5,129.9 L709.9,129.6 L711.3,129.3 L712.8,128.8 L714.2,128.4 L715.6,127.9 L717.0,127.2 L718.4,126.4 L719.9,125.7 L721.3,125.0 L722.7,124.6 L724.1,124.1 L725.5,123.7 L727.0,123.4 L728.4,123.1 L729.8,122.7 L731.2,122.2 L732.7,121.6 L734.1,121.1 L735.5,120.6 L736.9,120.1 L738.4,119.6 L739.8,119.3 L741.2,118.9 L742.6,118.6 L744.1,118.2 L745.5,117.9 L746.9,117.5 L748.3,117.0 L749.8,116.4 L751.2,115.7 L752.6,115.3 L754.0,115.3 L755.5,115.2 L756.9,115.0 L758.3,114.4 L759.8,113.8 L761.2,113.2 L762.6,112.8 L764.0,112.4" fill="none" stroke="#0070C0" stroke-width="4.4" stroke-linejoin="round" stroke-linecap="round"/>
<g style="opacity:0.999">
<text transform="translate(218.8,30.5) scale(1.014,1)" font-size="43.2" text-anchor="end">1.0E-04</text>
<text transform="translate(218.8,96.3) scale(1.014,1)" font-size="43.2" text-anchor="end">1.0E-05</text>
<text transform="translate(218.8,162.1) scale(1.014,1)" font-size="43.2" text-anchor="end">1.0E-06</text>
<text transform="translate(218.8,227.9) scale(1.014,1)" font-size="43.2" text-anchor="end">1.0E-07</text>
<text transform="translate(218.8,293.8) scale(1.014,1)" font-size="43.2" text-anchor="end">1.0E-08</text>
<text transform="translate(218.8,359.6) scale(1.014,1)" font-size="43.2" text-anchor="end">1.0E-09</text>
<text transform="translate(218.8,425.4) scale(1.014,1)" font-size="43.2" text-anchor="end">1.0E-10</text>
<text transform="translate(218.8,491.2) scale(1.014,1)" font-size="43.2" text-anchor="end">1.0E-11</text>
<text transform="translate(218.8,557.0) scale(1.014,1)" font-size="43.2" text-anchor="end">1.0E-12</text>
<text transform="translate(256.4,608.3) scale(1.014,1)" font-size="43.2" text-anchor="middle">-1.5</text>
<text transform="translate(341.2,608.3) scale(1.014,1)" font-size="43.2" text-anchor="middle">-1</text>
<text transform="translate(425.9,608.3) scale(1.014,1)" font-size="43.2" text-anchor="middle">-0.5</text>
<text transform="translate(510.7,608.3) scale(1.014,1)" font-size="43.2" text-anchor="middle">0</text>
<text transform="translate(595.5,608.3) scale(1.014,1)" font-size="43.2" text-anchor="middle">0.5</text>
<text transform="translate(680.2,608.3) scale(1.014,1)" font-size="43.2" text-anchor="middle">1</text>
<text transform="translate(765.0,608.3) scale(1.014,1)" font-size="43.2" text-anchor="middle">1.5</text>
<text x="511.6" y="670.0" font-size="50.3" text-anchor="middle">Voltage (V)</text>
<text transform="translate(36.0,279.0) rotate(-90)" font-size="50.9" text-anchor="middle">|Current| (A)</text>
<line x1="552.2" y1="330.9" x2="597.4" y2="330.9" stroke="#000000" stroke-width="3.5" stroke-linecap="round"/>
<text transform="translate(678.9,338.1) scale(1.022,1)" font-size="28.7" text-anchor="middle">1.34 μm<tspan font-size="17.8" dy="-9.0">2</tspan></text>
<line x1="552.2" y1="371.9" x2="597.4" y2="371.9" stroke="#FFC000" stroke-width="3.5" stroke-linecap="round"/>
<text transform="translate(678.9,377.9) scale(1.022,1)" font-size="28.7" text-anchor="middle">0.532 μm<tspan font-size="17.8" dy="-9.0">2</tspan></text>
<line x1="552.2" y1="412.2" x2="597.4" y2="412.2" stroke="#70AD47" stroke-width="3.5" stroke-linecap="round"/>
<text transform="translate(678.9,417.8) scale(1.022,1)" font-size="28.7" text-anchor="middle">0.363 μm<tspan font-size="17.8" dy="-9.0">2</tspan></text>
<line x1="552.2" y1="448.1" x2="597.4" y2="448.1" stroke="#FF0000" stroke-width="3.5" stroke-linecap="round"/>
<text transform="translate(678.9,453.5) scale(1.022,1)" font-size="28.7" text-anchor="middle">0.0995 μm<tspan font-size="17.8" dy="-9.0">2</tspan></text>
<line x1="552.2" y1="483.6" x2="597.4" y2="483.6" stroke="#0070C0" stroke-width="3.5" stroke-linecap="round"/>
<text transform="translate(678.9,488.9) scale(1.022,1)" font-size="28.7" text-anchor="middle">0.0357 μm<tspan font-size="17.8" dy="-9.0">2</tspan></text>
</g>
<line x1="19.2" y1="704.4" x2="770.9" y2="704.4" stroke="#A3CDEC" stroke-width="1.5" stroke-dasharray="11.8 12.06" stroke-dashoffset="0.0"/>
<rect x="5.8" y="703.7" width="1.4" height="1.3" fill="#A3CDEC"/>
</svg></body></html>
